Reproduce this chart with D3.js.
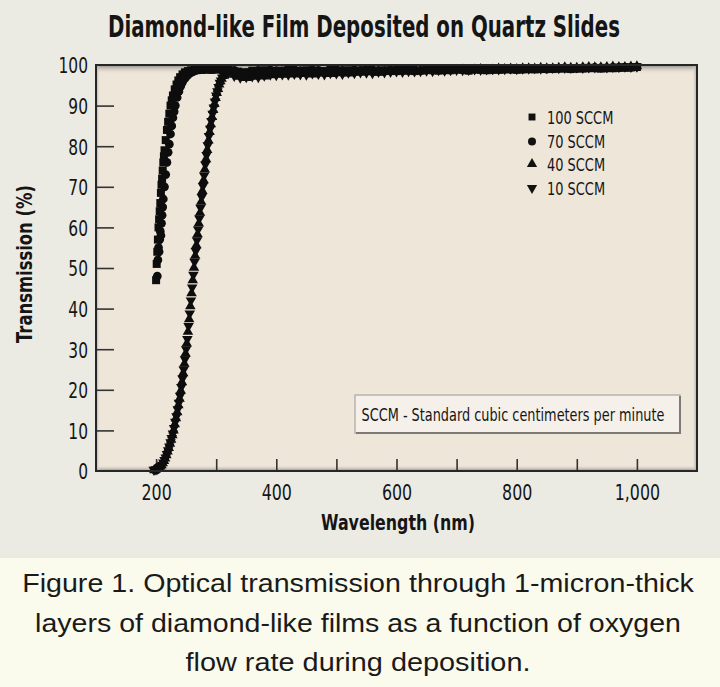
<!DOCTYPE html>
<html><head><meta charset="utf-8">
<script src="https://cdn.jsdelivr.net/npm/d3@7"></script>
<style>body{margin:0;background:#ecebe4;}svg{display:block}</style>
</head><body><svg id="c" width="720" height="687"></svg>
<script>
// ---------- DATA ----------
const title = "Diamond-like Film Deposited on Quartz Slides";
const xTitle = "Wavelength (nm)";
const yTitle = "Transmission (%)";
const captionLines = [
  "Figure 1. Optical transmission through 1-micron-thick",
  "layers of diamond-like films as a function of oxygen",
  "flow rate during deposition."
];
const noteText = "SCCM - Standard cubic centimeters per minute";
const seriesNames = ["100 SCCM", "70 SCCM", "40 SCCM", "10 SCCM"];
const xTickValues = [200,300,400,500,600,700,800,900,1000];
const xLabelValues = [200,400,600,800,1000];
const yTickValues = [0,10,20,30,40,50,60,70,80,90,100];

// rising part of each series (wavelength nm, transmission %)
const wl100Rise = [200,201,202,203,204,205,206,207,208,209,210,211,212,213,214,216,218,220,222,224,226,228,231,234,237,240,244,248,253,258,264,270,277,284,292,300,310];
const t100Rise  = [47,51,54,57,60,62,64,66,68.5,70.5,72,74,76,77.5,79,81.5,84,86,88,90,91.3,92.5,94,95.2,96.2,97,97.7,98.2,98.5,98.7,98.8,98.9,98.8,98.9,98.8,98.9,98.9];

const wl70Rise = [202,203,204,205,206,207,208,209,210,211,212,214,216,218,220,222,224,226,228,230,232,235,238,241,244,248,252,256,261,266,272,278,285,292,300,308,315];
const t70Rise  = [48,52,55,54,57,59,58,61,63,65,67,70,73,76,78.5,80.5,83,85,87,88.5,90,92,93.5,94.8,95.8,96.7,97.4,97.9,98.3,98.6,98.8,98.9,99.0,98.9,99.0,98.9,99.0];

const wl40Rise = [197,199,201,203,205,207,209,211,213,215,217,219,221,223,225,227,229,231,233,235,237,239,241,243,245,247,249,251,253,255,257,259,261,263,265,267,269,271,273,275,277,279,281,283,285,287,289,291,293,295,297,299,301,303,305,307,309,311,313,315,317,319];
const t40Rise  = [0.2,0.4,0.5,0.6,0.8,1.1,1.4,1.9,2.5,3.1,3.9,4.8,5.7,6.7,7.7,8.8,10.0,11.5,13.0,14.5,16.2,17.8,19.8,21.9,24.1,26.4,28.9,31.4,34.3,37.4,40.6,43.8,47.0,50.1,53.0,55.6,58.3,61.0,63.6,66.3,69.0,71.6,74.3,76.8,79.1,81.4,83.5,85.4,87.2,88.9,90.4,91.9,93.1,94.1,95.2,96.0,96.6,97.3,97.7,98.0,98.2,98.4];

const wl10Rise = [196,198,200,202,204,206,208,210,212,214,216,218,220,222,224,226,228,230,232,234,236,238,240,242,244,246,248,250,252,254,256,258,260,262,264,266,268,270,272,274,276,278,280,282,284,286,288,290,292,294,296,298,300,302,304,306,308,310,312,314,316,318];
const t10Rise  = [0.3,0.3,0.4,0.5,0.7,0.9,1.2,1.5,2.1,2.7,3.3,4.2,5.1,6.0,7.1,8.1,9.2,10.6,12.1,13.5,15.2,16.8,18.5,20.7,22.8,25.0,27.5,30.0,32.5,35.7,38.8,42.0,45.2,48.3,51.5,54.2,56.8,59.5,62.2,64.8,67.5,70.2,72.8,75.5,77.8,80.2,82.5,84.3,86.2,88.0,89.5,91.0,92.5,93.5,94.6,95.6,96.2,96.9,97.5,97.8,98.0,98.2];

// flat plateau of each series, shared wavelengths
const wlFlat = [320,330,340,350,360,370,380,390,400,410,420,430,440,450,460,470,480,490,500,510,520,530,540,550,560,570,580,590,600,610,620,630,640,650,660,670,680,690,700,710,720,730,740,750,760,770,780,790,800,810,820,830,840,850,860,870,880,890,900,910,920,930,940,950,960,970,980,990,1000];
const t100Flat = [98.8,98.5,98.0,98.2,98.6,98.4,98.7,98.5,98.3,98.6,
  98.8,98.5,98.4,98.7,98.6,98.3,98.5,98.8,98.6,98.4,
  98.7,98.5,98.6,98.8,98.5,98.4,98.7,98.6,98.5,98.8,
  98.7,98.5,98.6,98.9,98.7,98.6,98.8,98.7,98.9,98.8,
  98.6,98.9,98.8,98.7,99.0,98.8,98.9,99.0,98.8,98.9,
  99.1,98.9,99.0,99.1,99.0,99.2,99.1,99.0,99.2,99.1,
  99.3,99.2,99.1,99.3,99.2,99.4,99.3,99.4,99.5];
const t70Flat = [99.0,98.7,98.3,98.1,98.4,98.7,98.5,98.8,98.6,98.5,
  98.7,98.9,98.6,98.5,98.8,98.7,98.4,98.6,98.9,98.7,
  98.5,98.8,98.7,98.6,98.9,98.7,98.5,98.8,98.9,98.7,
  98.8,98.9,98.7,98.8,99.0,98.8,98.7,98.9,99.0,98.9,
  98.8,99.0,99.1,98.9,98.8,99.1,99.0,98.9,99.1,99.0,
  99.0,99.2,99.1,99.0,99.2,99.1,99.3,99.2,99.1,99.3,
  99.2,99.4,99.3,99.2,99.4,99.3,99.5,99.4,99.5];
const t40Flat = [98.3,97.6,97.1,96.8,97.1,97.3,97.2,97.5,97.7,97.6,
  97.8,97.7,97.9,97.8,97.7,98.0,97.9,97.8,98.1,98.0,
  97.9,98.2,98.1,98.3,98.2,98.1,98.4,98.3,98.5,98.4,
  98.4,98.6,98.5,98.7,98.6,98.6,98.8,98.7,98.8,98.9,
  98.7,98.9,99.0,98.8,98.9,99.1,99.0,99.1,99.0,99.2,
  99.2,99.1,99.3,99.2,99.2,99.3,99.4,99.3,99.3,99.4,
  99.5,99.4,99.4,99.5,99.6,99.5,99.5,99.6,99.7];
const t10Flat = [98.0,97.3,96.9,97.0,97.2,97.0,97.4,97.6,97.5,97.7,
  97.6,97.8,97.7,97.6,97.9,97.8,97.7,98.0,97.9,97.8,
  98.1,98.0,98.2,98.1,98.0,98.3,98.2,98.3,98.4,98.3,
  98.5,98.4,98.5,98.6,98.5,98.7,98.6,98.7,98.8,98.7,
  98.8,98.9,98.8,98.9,99.0,98.9,99.0,99.1,99.0,99.1,
  99.1,99.2,99.1,99.2,99.3,99.2,99.3,99.3,99.4,99.3,
  99.4,99.4,99.5,99.4,99.5,99.5,99.6,99.5,99.6];

// ---------- CHART ----------
const svg = d3.select("#c");
const FN = "'DejaVu Sans Condensed','Liberation Sans Narrow','Arial Narrow',sans-serif";
const INK = "#151515";
const M = {l:96, r:697, t:65, b:471};
const x = d3.scaleLinear().domain([100,1100]).range([M.l, M.r]);
const y = d3.scaleLinear().domain([0,100]).range([M.b, M.t]);

// squeeze text horizontally by factor (keeps anchor)
function squeeze(sel, factor){
  sel.each(function(){
    const L = this.getComputedTextLength();
    if (L > 0) d3.select(this).attr("textLength", L*factor).attr("lengthAdjust","spacingAndGlyphs");
  });
}
// scale a text to an exact width via transform, centred at cx
function fitScaled(g, txt, cx, cy, width, attrs, rotate){
  const t = g.append("text").attr("x",0).attr("y",0).attr("text-anchor","middle").text(txt);
  Object.entries(attrs).forEach(([k,v]) => t.attr(k,v));
  const L = t.node().getComputedTextLength();
  t.attr("transform", `translate(${cx},${cy})${rotate?` rotate(${rotate})`:""} scale(${width/L},1)`);
  return t;
}

// backgrounds
svg.append("rect").attr("x",0).attr("y",0).attr("width",720).attr("height",558).attr("fill","#ecebe3");
svg.append("rect").attr("x",0).attr("y",558).attr("width",720).attr("height",129).attr("fill","#fbfbed");

const defs = svg.append("defs");
function grad(id, x1,y1,x2,y2, c){
  const g = defs.append("linearGradient").attr("id",id).attr("x1",x1).attr("y1",y1).attr("x2",x2).attr("y2",y2);
  g.append("stop").attr("offset","0%").attr("stop-color",c);
  g.append("stop").attr("offset","100%").attr("stop-color","#efe6da").attr("stop-opacity",0);
}
grad("gTop",0,0,0,1,"#8a8784");
grad("gBot",0,1,0,0,"#8a8784");
grad("gLeft",0,0,1,0,"#a09c98");
grad("gRight",1,0,0,0,"#a09c98");

// plot panel
svg.append("rect").attr("x",M.l).attr("y",M.t).attr("width",M.r-M.l).attr("height",M.b-M.t).attr("fill","#efe6da");
svg.append("rect").attr("x",M.l).attr("y",M.t).attr("width",M.r-M.l).attr("height",9).attr("fill","url(#gTop)");
svg.append("rect").attr("x",M.l).attr("y",M.b-6).attr("width",M.r-M.l).attr("height",6).attr("fill","url(#gBot)");
svg.append("rect").attr("x",M.l).attr("y",M.t).attr("width",4).attr("height",M.b-M.t).attr("fill","url(#gLeft)");
svg.append("rect").attr("x",M.r-5).attr("y",M.t).attr("width",5).attr("height",M.b-M.t).attr("fill","url(#gRight)");

// title
fitScaled(svg, title, 364, 37, 512, {"font-family":FN, "font-weight":"bold", "font-size":30, "fill":INK});

// axes
const yAxis = d3.axisLeft(y).tickValues(yTickValues).tickSize(-18).tickPadding(8).tickFormat(d3.format("d"));
const gy = svg.append("g").attr("transform",`translate(${M.l},0)`).call(yAxis);
gy.select(".domain").remove();
gy.selectAll(".tick line").attr("stroke","#333").attr("stroke-width",1.6)
  .attr("display", d => (d===0||d===100) ? "none" : null);
gy.selectAll(".tick text").attr("font-family",FN).attr("font-size",22).attr("fill",INK).attr("dy","0.36em");
squeeze(gy.selectAll(".tick text"), 0.78);

const xAxis = d3.axisBottom(x).tickValues(xTickValues).tickSize(-12).tickPadding(13)
  .tickFormat(d => xLabelValues.includes(d) ? d3.format(",")(d) : "");
const gx = svg.append("g").attr("transform",`translate(0,${M.b})`).call(xAxis);
gx.select(".domain").remove();
gx.selectAll(".tick line").attr("stroke","#333").attr("stroke-width",1.6);
gx.selectAll(".tick text").attr("font-family",FN).attr("font-size",22).attr("fill",INK);
squeeze(gx.selectAll(".tick text"), 0.8);

// axis titles
fitScaled(svg, xTitle, 398, 530, 154, {"font-family":FN, "font-weight":"bold", "font-size":22, "fill":INK});
fitScaled(svg, yTitle, 32, 264, 158, {"font-family":FN, "font-weight":"bold", "font-size":21, "fill":INK}, -90);

// series
function pts(wlR, tR, tF){
  return wlR.map((w,i)=>({w, t:tR[i]})).concat(wlFlat.map((w,i)=>({w, t:tF[i]})));
}
const series = [
  {name:seriesNames[3], data:pts(wl10Rise,t10Rise,t10Flat), type:d3.symbolTriangle, size:48, rot:180},
  {name:seriesNames[2], data:pts(wl40Rise,t40Rise,t40Flat), type:d3.symbolTriangle, size:48, rot:0},
  {name:seriesNames[1], data:pts(wl70Rise,t70Rise,t70Flat), type:d3.symbolCircle, size:60, rot:0},
  {name:seriesNames[0], data:pts(wl100Rise,t100Rise,t100Flat), type:d3.symbolSquare, size:64, rot:0}
];
series.forEach(s => {
  const path = d3.symbol().type(s.type).size(s.size)();
  svg.append("g").selectAll("path").data(s.data).join("path")
    .attr("d", path)
    .attr("transform", d => `translate(${x(d.w)},${y(d.t)}) rotate(${s.rot})`)
    .attr("fill","#0d0d0d");
});

// frame border
svg.append("rect").attr("x",M.l).attr("y",M.t).attr("width",M.r-M.l).attr("height",M.b-M.t)
  .attr("fill","none").attr("stroke","#262626").attr("stroke-width",2);

// legend
const legendOrder = [
  {name:seriesNames[0], type:d3.symbolSquare, size:48, rot:0},
  {name:seriesNames[1], type:d3.symbolCircle, size:50, rot:0},
  {name:seriesNames[2], type:d3.symbolTriangle, size:46, rot:0},
  {name:seriesNames[3], type:d3.symbolTriangle, size:46, rot:180}
];
const legendY = [117, 141.5, 164, 188];
const lg = svg.append("g");
legendOrder.forEach((d,i) => {
  lg.append("path").attr("d", d3.symbol().type(d.type).size(d.size)())
    .attr("transform", `translate(532,${legendY[i]}) rotate(${d.rot})`).attr("fill","#111");
  const t = lg.append("text").attr("x",547).attr("y",legendY[i]+6.5)
    .attr("font-family",FN).attr("font-size",18).attr("fill",INK).text(d.name);
  squeeze(t, 0.8);
});

// note box
svg.append("rect").attr("x",355).attr("y",395).attr("width",325).attr("height",38)
  .attr("fill","#f5f0e9").attr("stroke","#b8b3ad").attr("stroke-width",1.5);
svg.append("path").attr("d","M356,433 H680 V396").attr("fill","none").attr("stroke","#7d7974").attr("stroke-width",2);
fitScaled(svg, noteText, 513, 421, 303, {"font-family":FN, "font-size":17, "fill":INK});

// caption
const capY = [592, 632, 671];
const capW = [672, 646, 345];
captionLines.forEach((t,i) => {
  fitScaled(svg, t, 358, capY[i], capW[i], {"font-family":"'Liberation Sans',Arial,sans-serif", "font-size":25, "fill":"#1a1a1a"});
});
</script>
</body></html>
